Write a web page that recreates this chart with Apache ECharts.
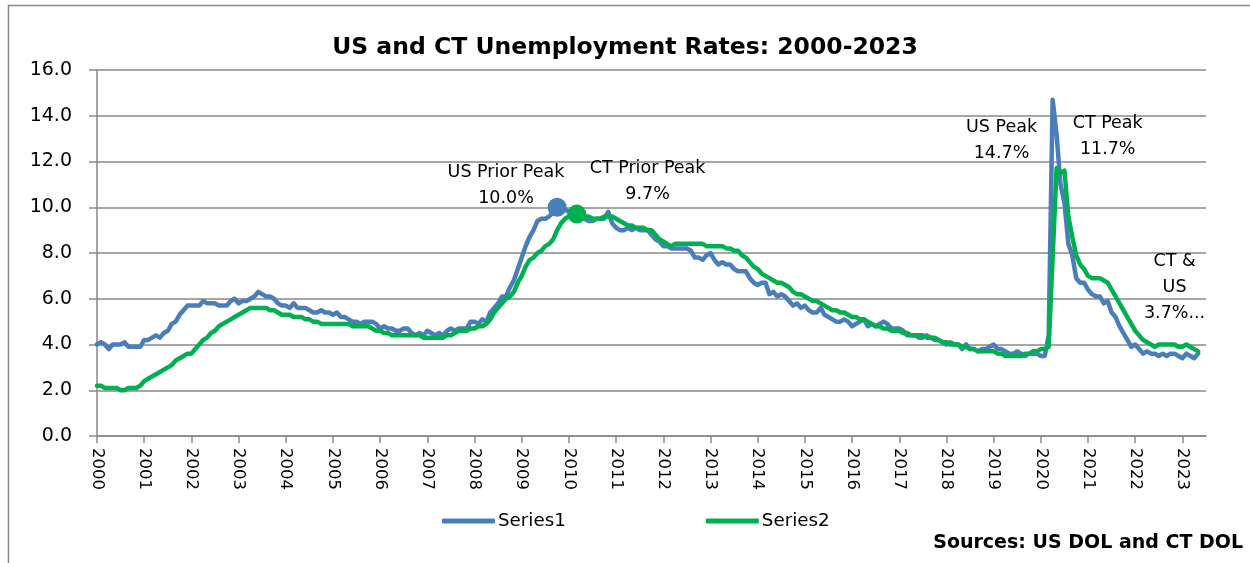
<!DOCTYPE html>
<html>
<head>
<meta charset="utf-8">
<title>US and CT Unemployment Rates: 2000-2023</title>
<script src="https://cdn.jsdelivr.net/npm/echarts@6/dist/echarts.min.js"></script>
<style>
  html, body { margin: 0; padding: 0; background: #fff; }
  #chart { width: 1250px; height: 563px; }
</style>
</head>
<body>
<div id="chart"></div>
<script>
// monthly rates, Jan 2000 .. May 2023 (axis runs on to Jul 2023)
var firstYear = 2000
var lastYear = 2023
var lastMonthOnAxis = 7

var months = []
for (var y = firstYear; y <= lastYear; y++) {
  for (var m = 1; m <= 12; m++) {
    if (y == lastYear && m > lastMonthOnAxis) break
    months.push(y + '-' + (m < 10 ? '0' + m : m))
  }
}

// Series1 = US
var usRate = [
  4.0,4.1,4.0,3.8,4.0,4.0,4.0,4.1,3.9,3.9,3.9,3.9,
  4.2,4.2,4.3,4.4,4.3,4.5,4.6,4.9,5.0,5.3,5.5,5.7,
  5.7,5.7,5.7,5.9,5.8,5.8,5.8,5.7,5.7,5.7,5.9,6.0,
  5.8,5.9,5.9,6.0,6.1,6.3,6.2,6.1,6.1,6.0,5.8,5.7,
  5.7,5.6,5.8,5.6,5.6,5.6,5.5,5.4,5.4,5.5,5.4,5.4,
  5.3,5.4,5.2,5.2,5.1,5.0,5.0,4.9,5.0,5.0,5.0,4.9,
  4.7,4.8,4.7,4.7,4.6,4.6,4.7,4.7,4.5,4.4,4.5,4.4,
  4.6,4.5,4.4,4.5,4.4,4.6,4.7,4.6,4.7,4.7,4.7,5.0,
  5.0,4.9,5.1,5.0,5.4,5.6,5.8,6.1,6.1,6.5,6.8,7.3,
  7.8,8.3,8.7,9.0,9.4,9.5,9.5,9.6,9.8,10.0,9.9,9.9,
  9.8,9.7,9.7,9.6,9.5,9.4,9.4,9.5,9.5,9.5,9.8,9.3,
  9.1,9.0,9.0,9.1,9.0,9.1,9.0,9.0,9.0,8.8,8.6,8.5,
  8.3,8.3,8.2,8.2,8.2,8.2,8.2,8.1,7.8,7.8,7.7,7.9,
  8.0,7.7,7.5,7.6,7.5,7.5,7.3,7.2,7.2,7.2,6.9,6.7,
  6.6,6.7,6.7,6.2,6.3,6.1,6.2,6.1,5.9,5.7,5.8,5.6,
  5.7,5.5,5.4,5.4,5.6,5.3,5.2,5.1,5.0,5.0,5.1,5.0,
  4.8,4.9,5.0,5.1,4.8,4.9,4.8,4.9,5.0,4.9,4.7,4.7,
  4.7,4.6,4.4,4.4,4.4,4.3,4.3,4.4,4.3,4.2,4.2,4.1,
  4.0,4.1,4.0,4.0,3.8,4.0,3.8,3.8,3.7,3.8,3.8,3.9,
  4.0,3.8,3.8,3.7,3.6,3.6,3.7,3.6,3.5,3.6,3.6,3.6,
  3.5,3.5,4.4,14.7,13.2,11.0,10.2,8.4,7.9,6.9,6.7,6.7,
  6.4,6.2,6.1,6.1,5.8,5.9,5.4,5.2,4.8,4.5,4.2,3.9,
  4.0,3.8,3.6,3.7,3.6,3.6,3.5,3.6,3.5,3.6,3.6,3.5,
  3.4,3.6,3.5,3.4,3.6
]

// Series2 = CT
var ctRate = [
  2.2,2.2,2.1,2.1,2.1,2.1,2.0,2.0,2.1,2.1,2.1,2.2,
  2.4,2.5,2.6,2.7,2.8,2.9,3.0,3.1,3.3,3.4,3.5,3.6,
  3.6,3.8,4.0,4.2,4.3,4.5,4.6,4.8,4.9,5.0,5.1,5.2,
  5.3,5.4,5.5,5.6,5.6,5.6,5.6,5.6,5.5,5.5,5.4,5.3,
  5.3,5.3,5.2,5.2,5.2,5.1,5.1,5.0,5.0,4.9,4.9,4.9,
  4.9,4.9,4.9,4.9,4.9,4.8,4.8,4.8,4.8,4.8,4.7,4.6,
  4.6,4.5,4.5,4.4,4.4,4.4,4.4,4.4,4.4,4.4,4.4,4.3,
  4.3,4.3,4.3,4.3,4.3,4.4,4.4,4.5,4.6,4.6,4.6,4.7,
  4.7,4.8,4.8,4.9,5.1,5.4,5.6,5.8,6.0,6.1,6.3,6.7,
  7.0,7.4,7.7,7.8,8.0,8.1,8.3,8.4,8.6,9.0,9.3,9.5,
  9.6,9.7,9.7,9.7,9.6,9.6,9.5,9.5,9.5,9.6,9.6,9.6,
  9.5,9.4,9.3,9.2,9.2,9.1,9.1,9.1,9.0,9.0,8.8,8.6,
  8.5,8.4,8.3,8.4,8.4,8.4,8.4,8.4,8.4,8.4,8.4,8.3,
  8.3,8.3,8.3,8.3,8.2,8.2,8.1,8.1,7.9,7.8,7.6,7.4,
  7.3,7.1,7.0,6.9,6.8,6.7,6.7,6.6,6.5,6.3,6.2,6.2,
  6.1,6.0,5.9,5.9,5.8,5.7,5.6,5.5,5.5,5.4,5.4,5.3,
  5.2,5.2,5.1,5.1,5.0,4.9,4.8,4.8,4.7,4.7,4.6,4.6,
  4.6,4.5,4.5,4.4,4.4,4.4,4.4,4.3,4.3,4.3,4.2,4.1,
  4.1,4.0,4.0,4.0,3.9,3.9,3.8,3.8,3.7,3.7,3.7,3.7,
  3.7,3.6,3.6,3.5,3.5,3.5,3.5,3.5,3.6,3.6,3.7,3.7,
  3.8,3.8,3.9,7.8,11.7,11.5,11.6,9.6,8.7,7.9,7.5,7.3,
  7.0,6.9,6.9,6.9,6.8,6.7,6.4,6.1,5.8,5.5,5.2,4.9,
  4.6,4.4,4.2,4.1,4.0,3.9,4.0,4.0,4.0,4.0,4.0,3.9,
  3.9,4.0,3.9,3.8,3.7
]

var yTicks = [0, 2, 4, 6, 8, 10, 12, 14, 16]

// peak dots and text boxes: [month, value]
var usPriorPeak = ['2009-10', 10.0]
var ctPriorPeak = ['2010-03', 9.7]
var notes = [
  { text: 'US Prior Peak\n10.0%', at: ['2008-09', 10.96] },
  { text: 'CT Prior Peak\n9.7%', at: ['2011-09', 11.13] },
  { text: 'US Peak\n14.7%', at: ['2019-03', 12.92] },
  { text: 'CT Peak\n11.7%', at: ['2021-06', 13.11] },
  { text: 'CT &\nUS\n3.7%...', at: ['2022-11', 6.49] }
]

var blue = '#4a7ebb'
var green = '#00b050'
var grey = '#898989'
var font = 'DejaVu Sans'

var chart = echarts.init(document.getElementById('chart'))

var noteItems = notes.map(function (n) {
  return {
    coord: n.at,
    symbolSize: 0,
    label: { show: true, position: 'inside', formatter: n.text }
  }
})

var option = {
  animation: false,
  textStyle: { fontFamily: font },
  title: [
    {
      text: 'US and CT Unemployment Rates: 2000-2023',
      left: 'center',
      top: 31,
      textStyle: { fontFamily: font, fontSize: 23.5, fontWeight: 'bold', color: '#000' }
    },
    {
      text: 'Sources: US DOL and CT DOL',
      right: 7,
      top: 534,
      padding: 0,
      textStyle: { fontFamily: font, fontSize: 19, fontWeight: 'bold', color: '#000' }
    }
  ],
  legend: {
    left: 437,
    top: 507,
    itemWidth: 53,
    itemHeight: 5,
    itemGap: 140,
    icon: 'roundRect',
    textStyle: { fontFamily: font, fontSize: 18.3, color: '#000', padding: [0, 0, 0, -2] },
    data: ['Series1', 'Series2']
  },
  grid: { left: 97, right: 44, top: 70, bottom: 127 },
  xAxis: {
    type: 'category',
    boundaryGap: false,
    data: months,
    axisLine: { lineStyle: { color: grey, width: 1.5 } },
    axisTick: { interval: 11, length: 7, lineStyle: { color: grey, width: 1.5 } },
    axisLabel: {
      interval: 11,
      rotate: -90,
      margin: 12,
      color: '#000',
      fontFamily: font,
      fontSize: 16.5,
      formatter: function (v) { return v.slice(0, 4) }
    },
    splitLine: { show: false }
  },
  yAxis: {
    type: 'value',
    min: yTicks[0],
    max: yTicks[yTicks.length - 1],
    interval: 2,
    axisLine: { show: true, lineStyle: { color: grey, width: 1.5 } },
    axisTick: { show: true, length: 8, lineStyle: { color: grey, width: 1.5 } },
    axisLabel: {
      margin: 25,
      color: '#000',
      fontFamily: font,
      fontSize: 19,
      formatter: function (v) { return v.toFixed(1) }
    },
    splitLine: { lineStyle: { color: grey, width: 1.5 } }
  },
  graphic: [
    {
      type: 'rect',
      silent: true,
      shape: { x: 8.5, y: 5.5, width: 1400, height: 800 },
      style: { fill: 'none', stroke: grey, lineWidth: 1.5 }
    }
  ],
  series: [
    {
      name: 'Series1',
      type: 'line',
      data: usRate,
      showSymbol: false,
      color: blue,
      lineStyle: { width: 4.5, color: blue, join: 'round', cap: 'round' },
      markPoint: {
        silent: true,
        animation: false,
        data: [
          { coord: usPriorPeak, symbol: 'circle', symbolSize: 19, itemStyle: { color: blue }, label: { show: false } }
        ]
      }
    },
    {
      name: 'Series2',
      type: 'line',
      data: ctRate,
      showSymbol: false,
      color: green,
      lineStyle: { width: 4.5, color: green, join: 'round', cap: 'round' },
      markPoint: {
        silent: true,
        animation: false,
        symbol: 'circle',
        label: { color: '#000', fontFamily: font, fontSize: 17.5, lineHeight: 26 },
        data: [
          { coord: ctPriorPeak, symbol: 'circle', symbolSize: 19, itemStyle: { color: green }, label: { show: false } }
        ].concat(noteItems)
      }
    }
  ]
}

chart.setOption(option)
</script>
</body>
</html>
